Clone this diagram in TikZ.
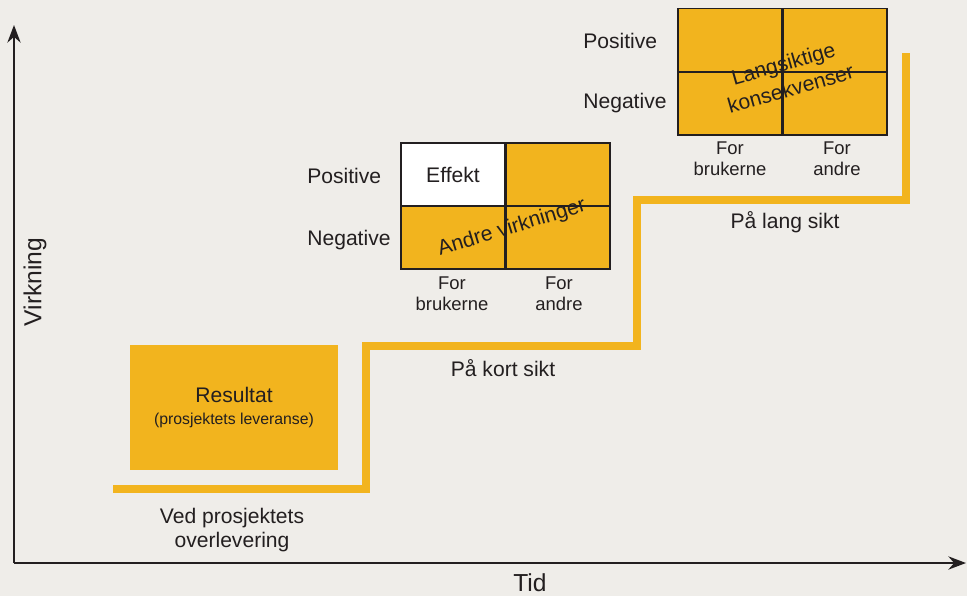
\documentclass[tikz,border=0pt]{standalone}
\usepackage{fontspec}
\setmainfont{Liberation Sans}
\usepackage{xcolor}
\usepackage{tikz}
\usetikzlibrary{arrows.meta, positioning}
\definecolor{amber}{RGB}{242,180,30}
\definecolor{paper}{RGB}{239,237,233}
\definecolor{ink}{RGB}{35,31,32}

\begin{document}
\begin{tikzpicture}[
    x=0.02cm, y=0.02cm,
    cell/.style={rectangle, draw=ink, line width=0.6pt, fill=amber, minimum width=2.08cm, minimum height=1.26cm, inner sep=0pt},
    rowlabel/.style={anchor=west, inner sep=0pt, text=ink, font=\fontsize{12}{14}\selectfont},
    collabel/.style={align=center, inner sep=0pt, text=ink, font=\fontsize{10.5}{12}\selectfont},
    caption/.style={align=center, inner sep=0pt, text=ink, font=\fontsize{12}{14}\selectfont},
    axis/.style={-{Stealth[length=10pt, width=7.5pt]}, line width=1.4pt, draw=ink},
    stair/.style={line width=4.6pt, draw=amber}
]
    \path[use as bounding box, fill=paper] (0,0) rectangle (967,-596);

    % Axes
    \coordinate (origin) at (14,-563);
    \coordinate (ytip) at (14,-25);
    \coordinate (xtip) at (966,-563);
    \draw[axis] (origin) -- (ytip);
    \draw[axis] (origin) -- (xtip);
    \node[text=ink, font=\fontsize{14}{16}\selectfont] (tid) at (530,-583) {Tid};
    \node[text=ink, rotate=90, font=\fontsize{14}{16}\selectfont] (virkning) at (35,-282) {Virkning};

    % Staircase
    \draw[stair] (113,-489) -| (366,-346) -| (637,-200) -| (906,-53);

    % Result
    \node[rectangle, fill=amber, minimum width=4.16cm, minimum height=2.5cm, align=center, text=ink,
          font=\fontsize{12}{14}\selectfont] (resultat) at (234,-407.5)
          {Resultat\\[-1pt]{\fontsize{9}{11}\selectfont (prosjektets leveranse)}};
    \node[caption] (overlevering) at (232,-530) {Ved prosjektets\\overlevering};

    % Short term
    \node[cell, fill=white] (effekt) at (453,-174.5) {};
    \node[cell] (kortandrepos) at (558,-174.5) {};
    \node[cell] (kortbrukneg) at (453,-237.5) {};
    \node[cell] (kortandreneg) at (558,-237.5) {};
    \node[text=ink, font=\fontsize{12}{14}\selectfont] at (effekt.center) {Effekt};
    \node[text=ink, rotate=17, font=\fontsize{12}{14}\selectfont] (andre) at (512,-228) {Andre virkninger};
    \node[rowlabel] (kortpos) at (307,-176) {Positive};
    \node[rowlabel] (kortneg) at (307,-240) {Negative};
    \node[collabel] (kortbruk) at (452,-293.5) {For\\brukerne};
    \node[collabel] (kortandre) at (559,-293.5) {For\\andre};
    \node[caption] (kortsikt) at (503,-368) {På kort sikt};

    % Long term
    \node[cell] (langbrukpos) at (730,-40) {};
    \node[cell] (langandrepos) at (835,-40) {};
    \node[cell] (langbrukneg) at (730,-103.5) {};
    \node[cell] (langandreneg) at (835,-103.5) {};
    \node[text=ink, rotate=16, align=center, font=\fontsize{12}{15}\selectfont] (konsekvenser) at (787,-76) {Langsiktige\\konsekvenser};
    \node[rowlabel] (langpos) at (583,-41) {Positive};
    \node[rowlabel] (langneg) at (583,-103) {Negative};
    \node[collabel] (langbruk) at (730,-158.5) {For\\brukerne};
    \node[collabel] (langandre) at (837,-158.5) {For\\andre};
    \node[caption] (langsikt) at (785,-222) {På lang sikt};
\end{tikzpicture}
\end{document}
